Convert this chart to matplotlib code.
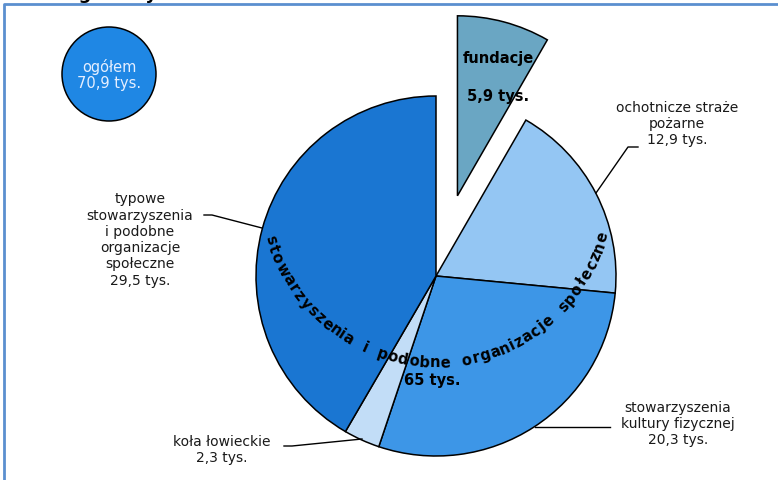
import numpy as np
import matplotlib.pyplot as plt
from matplotlib.patches import Circle
from matplotlib.textpath import TextPath
from matplotlib.font_manager import FontProperties

W, H = 778, 481

# data (thousands)
categories = ['fundacje', 'ochotnicze straże pożarne', 'stowarzyszenia kultury fizycznej',
              'koła łowieckie', 'typowe stowarzyszenia i podobne organizacje społeczne']
values = [5.9, 12.9, 20.3, 2.3, 29.5]
value_labels = ['5,9 tys.', '12,9 tys.', '20,3 tys.', '2,3 tys.', '29,5 tys.']
total_label = 'ogółem\n70,9 tys.'
group_label = 'stowarzyszenia i podobne organizacje społeczne'
group_value = '65 tys.'
title = 'Organizacje non-profit według formy'

colors = ['#6aa6c3', '#94c6f3', '#3d96e7', '#c2ddf7', '#1a76d2']
plt.rcParams['font.family'] = ['DejaVu Sans']

fig = plt.figure(figsize=(W / 100, H / 100), dpi=100)
ax = fig.add_axes([0, 0, 1, 1])


def Y(y):
    return H - y


cx, cy, r = 436, Y(277), 180
# explode is in data units here (pixels)
ax.pie(values, startangle=90, counterclock=False, center=(cx, cy), radius=r,
       explode=[83, 0, 0, 0, 0], colors=colors,
       wedgeprops=dict(edgecolor='black', linewidth=1.1))
ax.set_xlim(0, W)
ax.set_ylim(0, H)
ax.set_aspect('equal')
ax.axis('off')

# frame and cut-off title
ax.plot([4.5, 4.5, W + 5], [-5, Y(5), Y(5)], color='#5b8fcf', lw=2, clip_on=False)
ax.text(157, Y(-1), title, ha='right', va='baseline', fontsize=13, fontweight='bold')

# total circle
ax.add_patch(Circle((109, Y(75)), 47, facecolor='#1f87e4', edgecolor='black', lw=1.1))
ax.text(109, Y(75), total_label, ha='center', va='center', fontsize=10.5,
        color='#e6efff', linespacing=1.15)

# outside labels with leader lines
lab_kw = dict(ha='center', va='center', fontsize=10, color='#1a1a1a', multialignment='center')
ax.text(140, Y(240), 'typowe\nstowarzyszenia\ni podobne\norganizacje\nspołeczne\n' + value_labels[4], **lab_kw)
ax.plot([204, 212, 262], [Y(216), Y(216), Y(229)], color='black', lw=1)

ax.text(677, Y(124), 'ochotnicze straże\npożarne\n' + value_labels[1], **lab_kw)
ax.plot([638, 628, 596], [Y(148), Y(148), Y(194)], color='black', lw=1)

ax.text(678, Y(424), 'stowarzyszenia\nkultury fizycznej\n' + value_labels[2], **lab_kw)
ax.plot([610, 535], [Y(428), Y(428)], color='black', lw=1)

ax.text(222, Y(450), categories[3] + '\n' + value_labels[3], **lab_kw)
ax.plot([284, 292, 362], [Y(447), Y(447), Y(440)], color='black', lw=1)

# fundacje inside the exploded slice
ax.text(498, Y(58), categories[0], ha='center', va='center', fontsize=10.5, fontweight='bold')
ax.text(498, Y(97), value_labels[0], ha='center', va='center', fontsize=10.5, fontweight='bold')

# curved group label along an arc
fp = FontProperties(family='DejaVu Sans', weight='bold', size=10.5)
widths = []
for ch in group_label:
    if ch == ' ':
        widths.append(8.0)
    else:
        widths.append(TextPath((0, 0), ch, prop=fp).get_extents().width + 2.0)
widths = np.array(widths)
pos = np.cumsum(widths) - widths / 2
pos = (pos - pos[0]) / (pos[-1] - pos[0])
acx, acy, ar = 436, Y(190), 173
a0, a1 = 196.8, 344.1
for ch, p in zip(group_label, pos):
    if ch == ' ':
        continue
    th = np.deg2rad(a0 + (a1 - a0) * p)
    ax.text(acx + ar * np.cos(th), acy + ar * np.sin(th), ch, fontproperties=fp,
            ha='center', va='center', rotation=np.rad2deg(th) + 90, rotation_mode='anchor')
ax.text(432, Y(381), group_value, ha='center', va='center', fontsize=10.5, fontweight='bold')

fig.savefig('out.png', dpi=100)
